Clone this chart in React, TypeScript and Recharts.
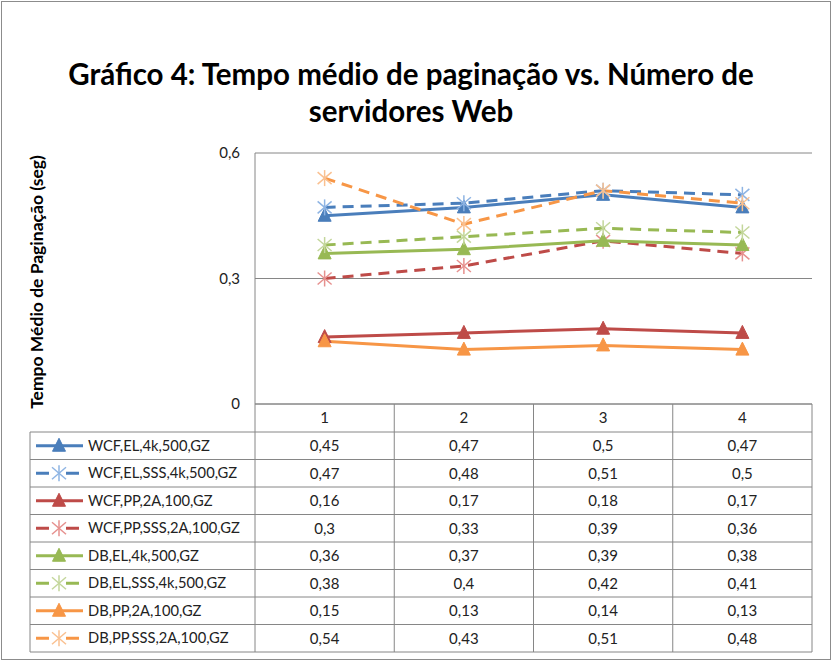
import { CartesianGrid, Line, LineChart, XAxis, YAxis } from "recharts";

const categories = ["1", "2", "3", "4"];
const seriesNames = [
  "WCF,EL,4k,500,GZ",
  "WCF,EL,SSS,4k,500,GZ",
  "WCF,PP,2A,100,GZ",
  "WCF,PP,SSS,2A,100,GZ",
  "DB,EL,4k,500,GZ",
  "DB,EL,SSS,4k,500,GZ",
  "DB,PP,2A,100,GZ",
  "DB,PP,SSS,2A,100,GZ",
];
const wcfEl = [0.45, 0.47, 0.5, 0.47];
const wcfElSss = [0.47, 0.48, 0.51, 0.5];
const wcfPp = [0.16, 0.17, 0.18, 0.17];
const wcfPpSss = [0.3, 0.33, 0.39, 0.36];
const dbEl = [0.36, 0.37, 0.39, 0.38];
const dbElSss = [0.38, 0.4, 0.42, 0.41];
const dbPp = [0.15, 0.13, 0.14, 0.13];
const dbPpSss = [0.54, 0.43, 0.51, 0.48];
const yTicks = [0, 0.3, 0.6];

const seriesValues = [wcfEl, wcfElSss, wcfPp, wcfPpSss, dbEl, dbElSss, dbPp, dbPpSss];

// estilo por série: cor da linha, cor do marcador, tracejado, tipo de marcador
const STYLES = [
  { color: "#4a7ebb", mark: "#4a7ebb", dashed: false, star: false },
  { color: "#4a7ebb", mark: "#8eb4e3", dashed: true, star: true },
  { color: "#be4b48", mark: "#be4b48", dashed: false, star: false },
  { color: "#be4b48", mark: "#e6908e", dashed: true, star: true },
  { color: "#98b954", mark: "#98b954", dashed: false, star: false },
  { color: "#98b954", mark: "#c3d69b", dashed: true, star: true },
  { color: "#f79646", mark: "#f79646", dashed: false, star: false },
  { color: "#f79646", mark: "#fac090", dashed: true, star: true },
];

const keys = seriesValues.map((_, i) => `s${i}`);
const data = categories.map((c, ci) => {
  const row: Record<string, string | number> = { name: c };
  seriesValues.forEach((vals, si) => (row[keys[si]] = vals[ci]));
  return row;
});

const FONT = "Lato, 'Open Sans', sans-serif";
const W = 832;
const H = 663;
const PLOT_L = 255;
const PLOT_R = 812;
const PLOT_T = 153;
const PLOT_B = 404;
const HALF_COL = (PLOT_R - PLOT_L) / categories.length / 2;
const TABLE_L = 30;
const HEAD_B = 432;
const ROW_H = 27.5;
const TABLE_B = HEAD_B + ROW_H * seriesNames.length;
const GRID = "#868686";

const fmt = (v: number) => String(v).replace(".", ",");

function Marker({ cx, cy, si }: { cx: number; cy: number; si: number }) {
  const st = STYLES[si];
  if (st.star) {
    const r = 7;
    return (
      <g stroke={st.mark} strokeWidth={1.5}>
        <line x1={cx - r} y1={cy - r + 1} x2={cx + r} y2={cy + r - 1} />
        <line x1={cx - r} y1={cy + r - 1} x2={cx + r} y2={cy - r + 1} />
        <line x1={cx} y1={cy - r - 1} x2={cx} y2={cy + r + 1} />
      </g>
    );
  }
  const s = 6.5;
  return (
    <path
      d={`M${cx},${cy - s - 1} L${cx + s},${cy + s - 1} L${cx - s},${cy + s - 1} Z`}
      fill={st.mark}
      stroke={st.mark}
      strokeWidth={1}
    />
  );
}

// cada tick do eixo X desenha a coluna inteira da tabela de dados
function ColumnTick(props: any) {
  const { x, index, payload } = props;
  const last = index === categories.length - 1;
  return (
    <g fontFamily={FONT} fontSize={15} fill="#222">
      <line x1={x - HALF_COL} y1={PLOT_B} x2={x - HALF_COL} y2={TABLE_B} stroke={GRID} />
      {last && <line x1={x + HALF_COL} y1={PLOT_B} x2={x + HALF_COL} y2={TABLE_B} stroke={GRID} />}
      <text x={x} y={PLOT_B + 19} textAnchor="middle">
        {payload.value}
      </text>
      {seriesValues.map((vals, si) => (
        <text key={si} x={x} y={HEAD_B + ROW_H * si + 19} textAnchor="middle">
          {fmt(vals[index])}
        </text>
      ))}
    </g>
  );
}

function YTick(props: any) {
  const { y, payload } = props;
  return (
    <text x={240} y={y + 5} textAnchor="end" fontFamily={FONT} fontSize={15} fill="#222">
      {fmt(payload.value)}
    </text>
  );
}

export default function App() {
  return (
    <div style={{ position: "absolute", left: 0, top: 0, width: W, height: H, background: "#fff" }}>
      <div
        style={{
          position: "absolute",
          left: 1,
          top: 1,
          width: 828,
          height: 657,
          border: "1px solid #8c8c8c",
        }}
      />
      <LineChart
        width={W}
        height={H}
        data={data}
        margin={{ top: PLOT_T, right: W - PLOT_R, left: 0, bottom: 11 }}
        style={{ position: "absolute", left: 0, top: 0 }}
      >
        <CartesianGrid stroke={GRID} vertical={false} />
        <XAxis
          dataKey="name"
          height={H - PLOT_B - 11}
          padding={{ left: HALF_COL, right: HALF_COL }}
          tickLine={false}
          axisLine={{ stroke: GRID }}
          tick={<ColumnTick />}
          interval={0}
        />
        <YAxis
          width={PLOT_L}
          domain={[0, 0.6]}
          ticks={yTicks}
          tickLine={false}
          axisLine={{ stroke: GRID }}
          tick={<YTick />}
        />
        {keys.map((k, si) => (
          <Line
            key={k}
            dataKey={k}
            name={seriesNames[si]}
            type="linear"
            stroke={STYLES[si].color}
            strokeWidth={3}
            strokeDasharray={STYLES[si].dashed ? "11 7" : undefined}
            dot={(p: any) => <Marker key={`${k}-${p.index}`} cx={p.cx} cy={p.cy} si={si} />}
            activeDot={false}
            isAnimationActive={false}
          />
        ))}
      </LineChart>
      <svg width={W} height={H} style={{ position: "absolute", left: 0, top: 0, pointerEvents: "none" }}>
        <text
          x={411}
          y={85}
          textAnchor="middle"
          fontFamily={FONT}
          fontWeight="bold"
          fontSize={29.5}
          fill="#000"
        >
          Gráfico 4: Tempo médio de paginação vs. Número de
        </text>
        <text
          x={411}
          y={122}
          textAnchor="middle"
          fontFamily={FONT}
          fontWeight="bold"
          fontSize={29.5}
          fill="#000"
        >
          servidores Web
        </text>
        <text
          transform="translate(43,282) rotate(-90)"
          textAnchor="middle"
          fontFamily={FONT}
          fontWeight="bold"
          fontSize={17.5}
          fill="#000"
        >
          Tempo Médio de Paginação (seg)
        </text>
        {/* coluna de legenda da tabela */}
        <line x1={TABLE_L} y1={HEAD_B} x2={TABLE_L} y2={TABLE_B} stroke={GRID} />
        {seriesNames.map((name, si) => {
          const top = HEAD_B + ROW_H * si;
          const cy = top + ROW_H / 2;
          const st = STYLES[si];
          return (
            <g key={name}>
              <line x1={TABLE_L} y1={top} x2={PLOT_R} y2={top} stroke={GRID} />
              <line
                x1={36}
                y1={cy}
                x2={st.dashed ? 79 : 83}
                y2={cy}
                stroke={st.color}
                strokeWidth={3}
                strokeDasharray={st.dashed ? "13 17" : undefined}
              />
              <Marker cx={59} cy={cy} si={si} />
              <text x={88} y={cy + 5} fontFamily={FONT} fontSize={14.7} fill="#222">
                {name}
              </text>
            </g>
          );
        })}
        <line x1={TABLE_L} y1={TABLE_B} x2={PLOT_R} y2={TABLE_B} stroke={GRID} />
      </svg>
    </div>
  );
}
